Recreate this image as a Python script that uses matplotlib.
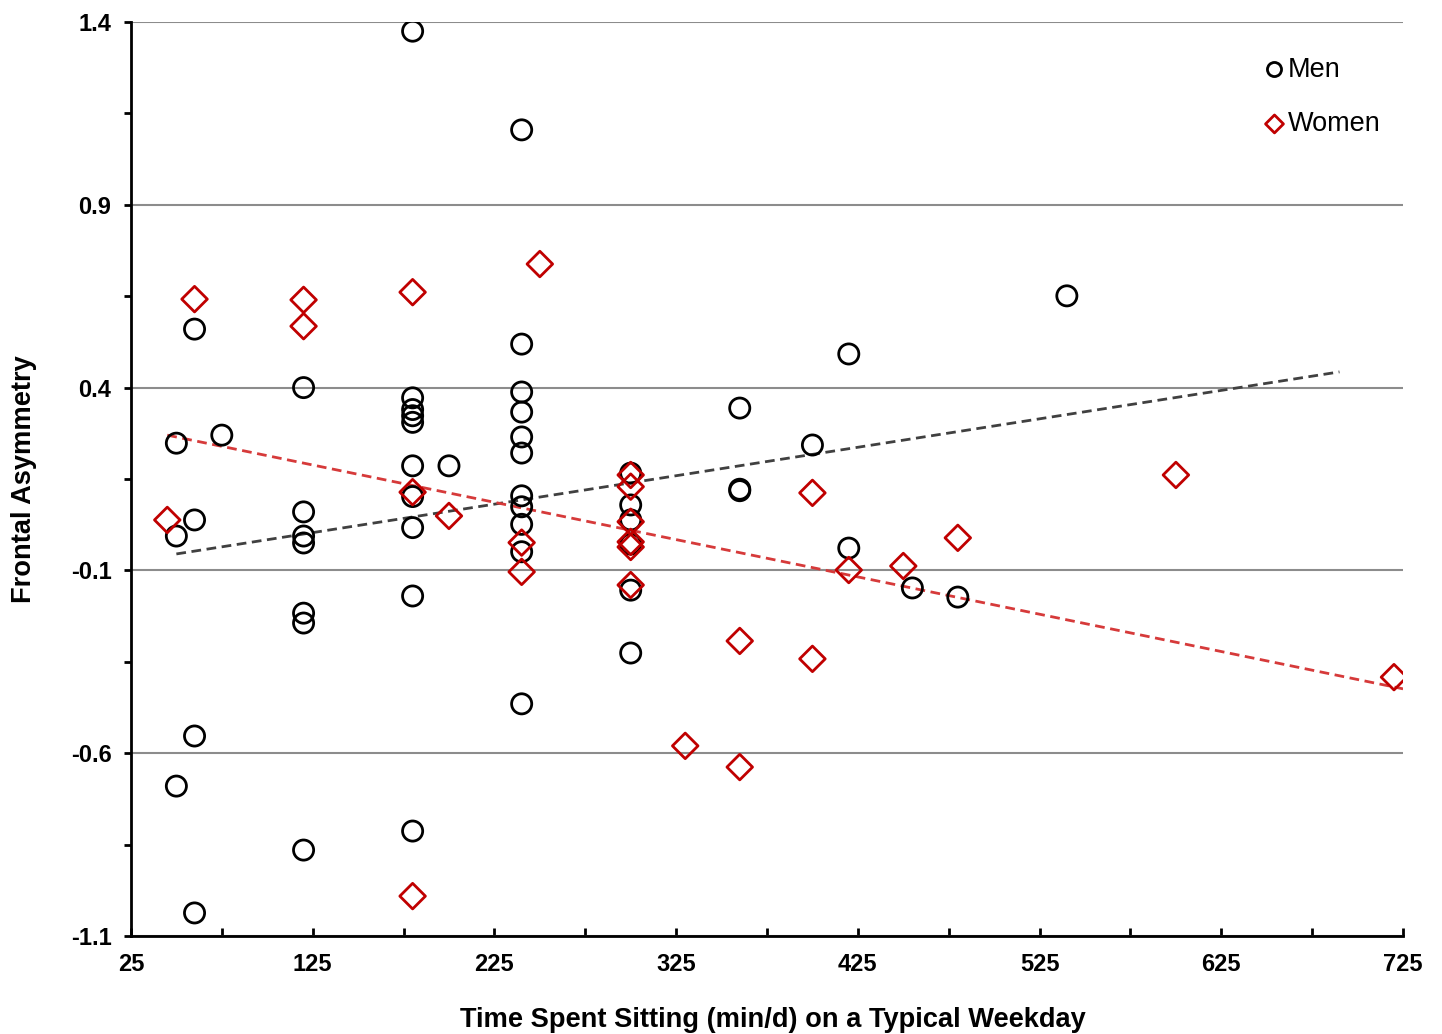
import matplotlib
matplotlib.use("Agg")
import matplotlib.pyplot as plt
from matplotlib.ticker import FixedLocator

plt.rcParams["font.family"] = ["Liberation Sans", "DejaVu Sans"]

# men (circles)
men_x = [180, 240, 60, 120, 50, 75, 60, 50, 120, 120, 120, 120, 120, 120, 60, 50, 60,
         180, 180, 180, 180, 180, 200, 180, 180, 180, 180,
         240, 240, 240, 240, 240, 240, 240, 240, 240, 240,
         300, 300, 300, 300, 300, 300,
         360, 360, 360, 400, 420, 420, 455, 480, 540]
men_y = [1.375, 1.105, 0.560, 0.400, 0.248, 0.270, 0.038, -0.006, 0.060, -0.006, -0.025,
         -0.217, -0.244, -0.865, -0.553, -0.690, -1.037,
         0.372, 0.340, 0.323, 0.305, 0.186, 0.186, 0.102, 0.017, -0.170, -0.813,
         0.519, 0.388, 0.333, 0.265, 0.221, 0.104, 0.074, 0.026, -0.049, -0.465,
         0.166, 0.079, 0.038, -0.028, -0.154, -0.326,
         0.344, 0.122, 0.118, 0.243, 0.492, -0.039, -0.148, -0.173, 0.651]

# women (diamonds)
women_x = [45, 60, 120, 120, 180, 180, 200, 250, 180, 240, 240,
           300, 300, 300, 300, 300, 300,
           330, 360, 360, 400, 400, 420, 450, 480, 600, 720]
women_y = [0.038, 0.642, 0.640, 0.568, 0.661, 0.114, 0.049, 0.738, -0.991, -0.024, -0.104,
           0.161, 0.129, 0.033, -0.022, -0.036, -0.140,
           -0.580, -0.293, -0.638, 0.112, -0.342, -0.099, -0.088, -0.011, 0.161, -0.392]

# linear trend lines, end points
men_trend_x = [50, 690]
men_trend_y = [-0.055, 0.443]
women_trend_x = [45, 725]
women_trend_y = [0.270, -0.424]

x_ticks = [25, 125, 225, 325, 425, 525, 625, 725]
x_minor = [75, 175, 275, 375, 475, 575, 675]
y_ticks = [-1.1, -0.6, -0.1, 0.4, 0.9, 1.4]
y_minor = [-0.85, -0.35, 0.15, 0.65, 1.15]

fig = plt.figure(figsize=(14.42, 10.34), dpi=100)
ax = fig.add_axes([0.0908, 0.0948, 0.8822, 0.8839])

ax.plot(men_trend_x, men_trend_y, color="#404040", ls=(0, (3.5, 2)), lw=2, zorder=2)
ax.plot(women_trend_x, women_trend_y, color="#d63a3a", ls=(0, (3.5, 2)), lw=2, zorder=2)

ax.scatter(men_x, men_y, s=210, facecolors="none", edgecolors="black",
           linewidths=2, marker="o", label="Men", zorder=3)
ax.scatter(women_x, women_y, s=170, facecolors="none", edgecolors="#c00000",
           linewidths=2, marker="D", label="Women", zorder=3)

ax.set_xlim(25, 725)
ax.set_ylim(-1.1, 1.4)
ax.xaxis.set_major_locator(FixedLocator(x_ticks))
ax.xaxis.set_minor_locator(FixedLocator(x_minor))
ax.yaxis.set_major_locator(FixedLocator(y_ticks))
ax.yaxis.set_minor_locator(FixedLocator(y_minor))
ax.yaxis.set_major_formatter(plt.FuncFormatter(lambda v, p: f"{v:.1f}"))

ax.grid(axis="y", which="major", color="#8c8c8c", lw=1.5, zorder=0)
for side in ["top", "right"]:
    ax.spines[side].set_visible(False)
for side in ["left", "bottom"]:
    ax.spines[side].set_linewidth(2)

ax.tick_params(axis="x", which="both", direction="in", length=6, width=2,
               labelsize=17, pad=12)
ax.tick_params(axis="y", which="both", direction="out", length=5, width=2,
               labelsize=17, pad=9)
for lbl in ax.get_xticklabels() + ax.get_yticklabels():
    lbl.set_fontweight("bold")

ax.set_xlabel("Time Spent Sitting (min/d) on a Typical Weekday", fontsize=19.6,
              fontweight="bold", labelpad=22)
ax.xaxis.set_label_coords(0.505, -0.078)
ax.set_ylabel("Frontal Asymmetry", fontsize=19.6, fontweight="bold", labelpad=24)

leg = ax.legend(loc="upper right", bbox_to_anchor=(0.991, 0.974), frameon=False,
                fontsize=19.5, handlelength=0.7, handletextpad=0.15, labelspacing=1.05,
                markerscale=0.7, borderaxespad=0)

fig.savefig("out.png", dpi=100)
